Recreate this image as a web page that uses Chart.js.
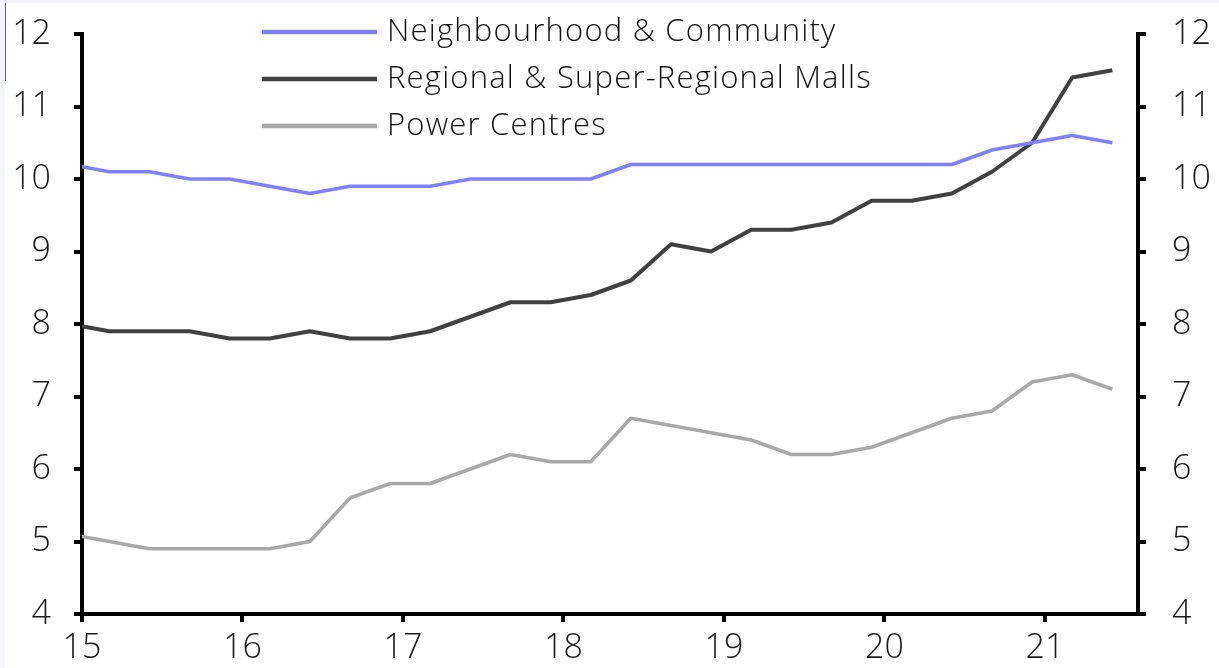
<!DOCTYPE html>
<html>
<head>
<meta charset="utf-8">
<script src="https://cdn.jsdelivr.net/npm/chart.js@4/dist/chart.umd.min.js"></script>
<style>
  html, body { margin: 0; padding: 0; background: #fff; }
  #wrap { position: relative; width: 1219px; height: 668px; }
</style>
</head>
<body>
<div id="wrap"><canvas id="chart"></canvas></div>
<script>
// quarterly observations (year fraction, 15 = 2015)
const xPoints = [14.92, 15.17, 15.42, 15.67, 15.92, 16.17, 16.42, 16.67, 16.92, 17.17, 17.42, 17.67, 17.92, 18.17,
                 18.42, 18.67, 18.92, 19.17, 19.42, 19.67, 19.92, 20.17, 20.42, 20.67, 20.92, 21.17, 21.42];

const neighbourhood = [10.2, 10.1, 10.1, 10.0, 10.0, 9.9, 9.8, 9.9, 9.9, 9.9, 10.0, 10.0, 10.0, 10.0,
                       10.2, 10.2, 10.2, 10.2, 10.2, 10.2, 10.2, 10.2, 10.2, 10.4, 10.5, 10.6, 10.5];
const regional = [8.0, 7.9, 7.9, 7.9, 7.8, 7.8, 7.9, 7.8, 7.8, 7.9, 8.1, 8.3, 8.3, 8.4,
                  8.6, 9.1, 9.0, 9.3, 9.3, 9.4, 9.7, 9.7, 9.8, 10.1, 10.5, 11.4, 11.5];
const power = [5.1, 5.0, 4.9, 4.9, 4.9, 4.9, 5.0, 5.6, 5.8, 5.8, 6.0, 6.2, 6.1, 6.1,
               6.7, 6.6, 6.5, 6.4, 6.2, 6.2, 6.3, 6.5, 6.7, 6.8, 7.2, 7.3, 7.1];

const seriesNames = ['Neighbourhood & Community', 'Regional & Super-Regional Malls', 'Power Centres'];
const xTicks = [15, 16, 17, 18, 19, 20, 21];
const yTicks = [4, 5, 6, 7, 8, 9, 10, 11, 12];

const FONT = "'Open Sans', sans-serif";

function pairs(vals) {
  return vals.map((v, i) => ({ x: xPoints[i], y: v }));
}

// legend drawn inside the plot, top middle
const insideLegend = {
  id: 'insideLegend',
  afterDatasetsDraw(chart) {
    const ctx = chart.ctx;
    ctx.save();
    ctx.font = '300 31px ' + FONT;
    ctx.letterSpacing = '1.2px';
    ctx.textBaseline = 'middle';
    ctx.fillStyle = '#111';
    chart.data.datasets.forEach((ds, i) => {
      const y = 32 + i * 47;
      ctx.strokeStyle = ds.borderColor;
      ctx.lineWidth = 4.5;
      ctx.beginPath();
      ctx.moveTo(262, y);
      ctx.lineTo(377, y);
      ctx.stroke();
      ctx.fillText(ds.label, 387, y);
    });
    ctx.restore();
  }
};

const frame = {
  id: 'frame',
  beforeDraw(chart) {
    const ctx = chart.ctx;
    ctx.save();
    ctx.fillStyle = '#f3f5f8';
    ctx.fillRect(0, 0, chart.width, 3);
    ctx.fillRect(0, 0, 5, chart.height);
    ctx.fillStyle = '#4a63b0';
    ctx.fillRect(5, 3, 1, 78);
    ctx.restore();
  }
};

function yAxis(pos) {
  return {
    type: 'linear',
    position: pos,
    min: 4,
    max: 12,
    afterBuildTicks: s => { s.ticks = yTicks.map(v => ({ value: v })); },
    afterFit: s => {
      s.width = pos === 'left' ? 82 : 81;
      s.paddingTop = 0;
      s.paddingBottom = 0;
    },
    border: { display: true, color: '#000', width: 4 },
    grid: { drawOnChartArea: false, drawTicks: true, tickLength: 8, color: '#000', lineWidth: 4 },
    ticks: { color: '#1a1a1a', padding: pos === 'left' ? 23 : 26, font: { family: FONT, size: 34, weight: '300' } }
  };
}

new Chart(document.getElementById('chart'), {
  type: 'line',
  data: {
    datasets: [
      { label: seriesNames[0], data: pairs(neighbourhood), borderColor: '#7f7fff', borderWidth: 3.5 },
      { label: seriesNames[1], data: pairs(regional), borderColor: '#404040', borderWidth: 4 },
      { label: seriesNames[2], data: pairs(power), borderColor: '#a8a8a8', borderWidth: 3.5 }
    ]
  },
  options: {
    responsive: true,
    maintainAspectRatio: false,
    animation: false,
    layout: { padding: { top: 34, left: 0, right: 0, bottom: 0 } },
    elements: { point: { radius: 0 }, line: { tension: 0, borderJoinStyle: 'round' } },
    plugins: { legend: { display: false }, tooltip: { enabled: false } },
    scales: {
      x: {
        type: 'linear',
        min: 15,
        max: 21.58,
        afterBuildTicks: s => { s.ticks = xTicks.map(v => ({ value: v })); },
        afterFit: s => { s.height = 54; },
        border: { display: true, color: '#000', width: 4 },
        grid: { drawOnChartArea: false, drawTicks: true, tickLength: 8, color: '#000', lineWidth: 4 },
        ticks: { color: '#1a1a1a', padding: 6, maxRotation: 0, font: { family: FONT, size: 34, weight: '300' } }
      },
      y: yAxis('left'),
      y2: yAxis('right')
    }
  },
  plugins: [frame, insideLegend]
});
</script>
</body>
</html>
